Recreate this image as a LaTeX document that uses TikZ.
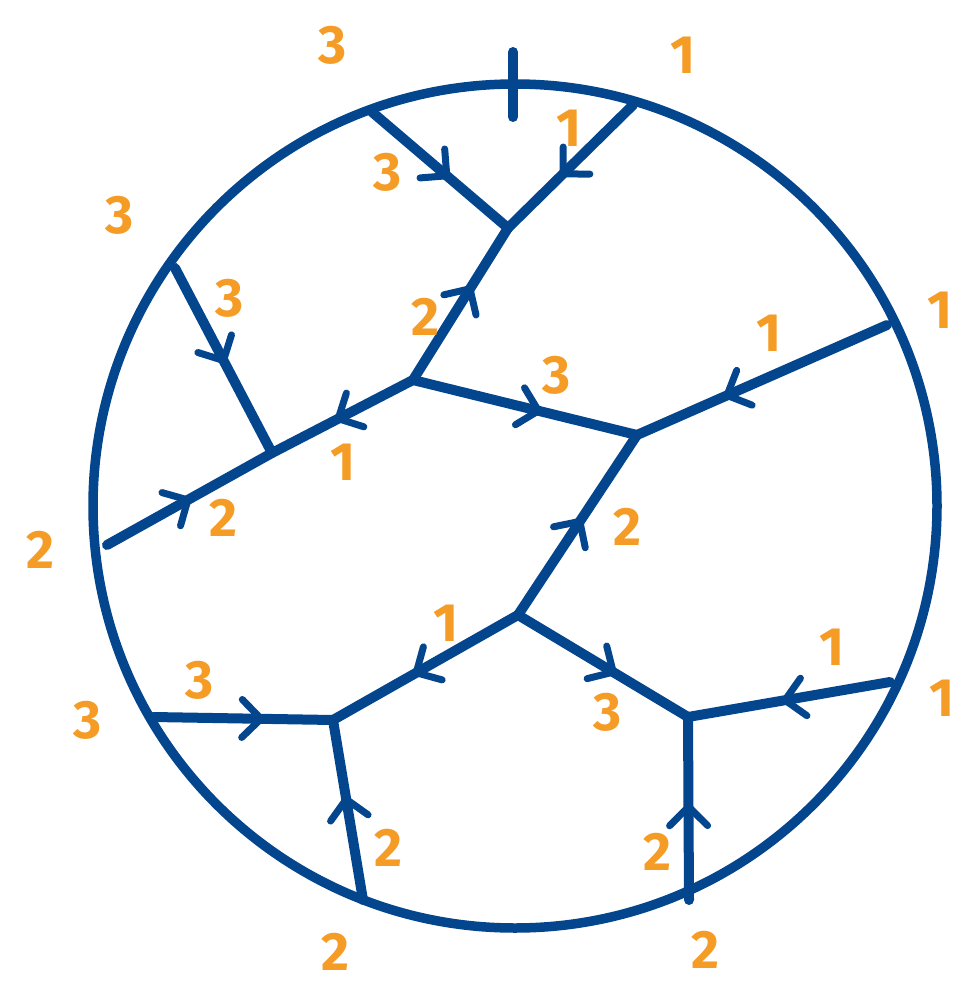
\documentclass[tikz,border=0pt]{standalone}
\usepackage{fontspec}
\setmainfont{Fira Sans}
\usetikzlibrary{decorations.markings}
\definecolor{webblue}{HTML}{04468E}
\definecolor{lblorange}{HTML}{F59C26}
\begin{document}
\begin{tikzpicture}[x=1pt,y=-1pt,
  web/.style={draw=webblue,line width=10pt,line cap=round,line join=round},
  arr/.style={postaction={decorate},decoration={markings,mark=at position #1 with {\draw[webblue,line width=7pt,line cap=round,line join=round] (-19pt,19pt) -- (0pt,0pt) -- (-19pt,-19pt);}}},
  lbl/.style={text=lblorange,font=\fontsize{54}{58}\selectfont\bfseries,inner sep=0pt}]
\useasboundingbox (0,0) rectangle (955,987);
% rim
\coordinate (O) at (515,506);
\draw[web,line width=9.5pt] (O) circle [radius=422pt];
\coordinate (t1) at (513,52);
\coordinate (t2) at (513,117);
\draw[web] (t1) -- (t2);
% vertices
\coordinate (A) at (508,228);
\coordinate (B) at (413,380);
\coordinate (C) at (272,453);
\coordinate (D) at (637,435);
\coordinate (E) at (518,615);
\coordinate (F) at (333,720);
\coordinate (G) at (688,717);
% boundary points
\coordinate (P1) at (372,112);
\coordinate (P2) at (633,105);
\coordinate (P3) at (175,268);
\coordinate (P4) at (107,545);
\coordinate (P5) at (887,325);
\coordinate (P6) at (153,717);
\coordinate (P7) at (363,900);
\coordinate (P8) at (890,682);
\coordinate (P9) at (689,900);
% edges
\draw[web,arr=0.55] (P1) -- (A);
\draw[web,arr=0.56] (P2) -- (A);
\draw[web,arr=0.60] (B) -- (A);
\draw[web,arr=0.53] (B) -- (C);
\draw[web,arr=0.56] (B) -- (D);
\draw[web,arr=0.50] (P3) -- (C);
\draw[web,arr=0.49] (P4) -- (C);
\draw[web,arr=0.64] (P5) -- (D);
\draw[web,arr=0.52] (E) -- (D);
\draw[web,arr=0.55] (E) -- (F);
\draw[web,arr=0.56] (E) -- (G);
\draw[web,arr=0.60] (P6) -- (F);
\draw[web,arr=0.56] (P7) -- (F);
\draw[web,arr=0.52] (P8) -- (G);
\draw[web,arr=0.51] (P9) -- (G);
% boundary labels
\node[lbl] (b1) at (333,45) {3};
\node[lbl] (b2) at (683,55) {1};
\node[lbl] (b3) at (120,215) {3};
\node[lbl] (b4) at (940,310) {1};
\node[lbl] (b5) at (40,550) {2};
\node[lbl] (b6) at (88,720) {3};
\node[lbl] (b7) at (942,698) {1};
\node[lbl] (b8) at (335,952) {2};
\node[lbl] (b9) at (705,950) {2};
% edge labels
\node[lbl] (e1) at (388,172) {3};
\node[lbl] (e2) at (569,128) {1};
\node[lbl] (e3) at (230,298) {3};
\node[lbl] (e4) at (425,317) {2};
\node[lbl] (e5) at (557,375) {3};
\node[lbl] (e6) at (769,333) {1};
\node[lbl] (e7) at (343,462) {1};
\node[lbl] (e8) at (223,518) {2};
\node[lbl] (e9) at (627,527) {2};
\node[lbl] (e10) at (446,623) {1};
\node[lbl] (e11) at (200,680) {3};
\node[lbl] (e12) at (608,712) {3};
\node[lbl] (e13) at (832,647) {1};
\node[lbl] (e14) at (388,848) {2};
\node[lbl] (e15) at (657,852) {2};
\end{tikzpicture}
\end{document}
